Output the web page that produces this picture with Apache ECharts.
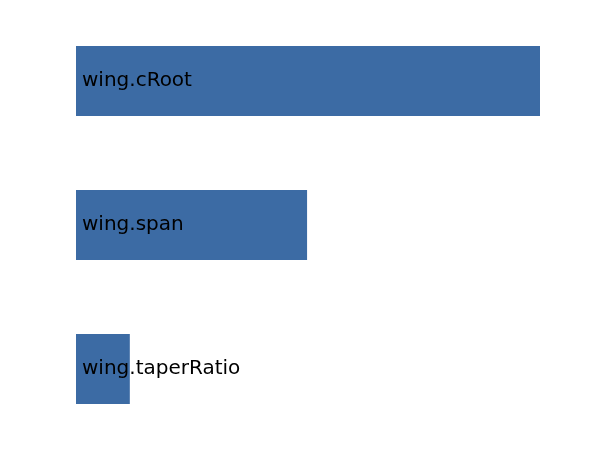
<!DOCTYPE html>
<html>
<head>
<meta charset="utf-8">
<script src="https://cdn.jsdelivr.net/npm/echarts@6/dist/echarts.min.js"></script>
<style>html,body{margin:0;padding:0;background:#fff}#c{width:600px;height:450px}</style>
</head>
<body>
<div id="c"></div>
<script>
const categories = ["wing.cRoot", "wing.span", "wing.taperRatio"];
const values = [1.0, 0.498, 0.116];

const chart = echarts.init(document.getElementById('c'));
chart.setOption({
  animation: false,
  backgroundColor: '#ffffff',
  grid: { left: 76, right: 60, top: 9, bottom: 9, containLabel: false },
  xAxis: {
    type: 'value', min: 0, max: 'dataMax',
    show: false
  },
  yAxis: {
    type: 'category', data: categories, inverse: true,
    show: false
  },
  series: [{
    type: 'bar',
    data: values,
    barWidth: 70,
    itemStyle: { color: '#3c6ba4' },
    label: {
      show: true,
      position: 'insideLeft',
      distance: 6,
      formatter: p => p.name,
      color: '#000000',
      fontFamily: 'DejaVu Sans',
      fontSize: 20
    }
  }]
});
</script>
</body>
</html>
